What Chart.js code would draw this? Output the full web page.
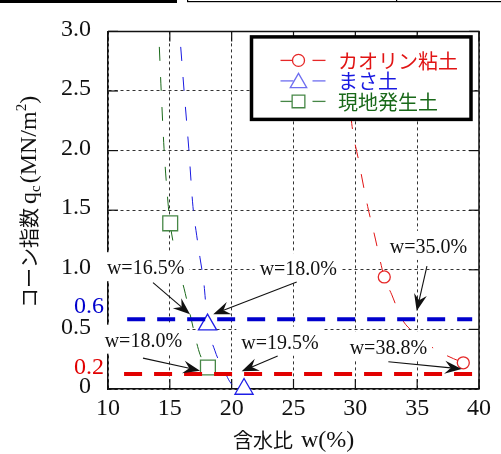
<!DOCTYPE html>
<html><head><meta charset="utf-8">
<script src="https://cdn.jsdelivr.net/npm/chart.js@4.4.0/dist/chart.umd.min.js"></script>
<style>html,body{margin:0;padding:0;background:#fff;}#wrap{width:501px;height:454px;}</style>
</head><body><div id="wrap"><canvas id="c" width="501" height="454"></canvas></div>
<script>
// ---- data ----
const xTicks = [10, 15, 20, 25, 30, 35, 40];
const yTicks = [0, 0.5, 1.0, 1.5, 2.0, 2.5, 3.0];
const seriesNames = ['カオリン粘土', 'まさ土', '現地発生土'];

// measured points
const kaolinW = [32.34, 38.73];
const kaolinQ = [0.94, 0.22];
const masaW = [18.05, 21.0];
const masaQ = [0.54, 0.0];
const genchiW = [15.03, 18.08];
const genchiQ = [1.39, 0.18];

// fitted curves
const kaolinFitW = [29.45, 29.65, 30.3, 31.0, 31.53, 32.34, 32.95, 33.75, 35.0, 36.2, 37.4, 38.73];
const kaolinFitQ = [2.55, 2.28, 1.90, 1.53, 1.30, 0.94, 0.79, 0.59, 0.45, 0.35, 0.28, 0.22];
const masaFitW = [15.88, 16.15, 16.53, 16.87, 17.17, 17.44, 17.76, 18.03, 18.65, 19.46, 19.86, 20.4];
const masaFitQ = [2.87, 2.505, 2.02, 1.53, 1.29, 1.10, 0.88, 0.57, 0.32, 0.14, 0.06, 0.0];
const genchiFitW = [14.15, 14.3, 14.53, 14.88, 15.03, 15.15, 15.75, 16.16, 16.63, 17.44, 18.08];
const genchiFitQ = [2.87, 2.505, 2.02, 1.53, 1.39, 1.30, 1.00, 0.84, 0.63, 0.29, 0.18];

// reference levels (dashed horizontal lines)
const refLabels = ['0.6', '0.2'];
const refLevels = [0.585, 0.125];
const refLabelQ = [0.69, 0.178];
const refStartW = [11.55, 11.3];
const refEndW = [39.45, 39.45];

// annotations
const annoText = ['w=16.5%', 'w=18.0%', 'w=35.0%', 'w=18.0%', 'w=19.5%', 'w=38.8%'];
const annoAtW = [13.04, 25.39, 35.92, 12.86, 23.91, 32.67];
const annoAtQ = [1.005, 0.997, 1.184, 0.397, 0.381, 0.341];
const arrowFromW = [13.64, 25.26, 35.79, 12.83, 23.72, 32.67];
const arrowFromQ = [0.892, 0.898, 1.03, 0.259, 0.276, 0.229];
const arrowToW = [16.63, 18.51, 34.96, 17.44, 20.81, 38.6];
const arrowToQ = [0.627, 0.627, 0.654, 0.154, 0.148, 0.168];

// ---- styles ----
const RED = 'rgb(225,20,20)', BLUE = 'rgb(25,25,225)', GREEN = 'rgb(25,105,25)';
const REF_BLUE = 'rgb(0,0,205)', REF_RED = 'rgb(225,0,0)';
const SERIF = '"Liberation Serif","Times New Roman",serif';
const CJK = '"Noto Sans CJK JP","Noto Sans CJK SC",sans-serif';

const zip = (a, b) => a.map((v, i) => ({x: v, y: b[i]}));

function fitDs(w, q, color) {
  return {type: 'line', data: zip(w, q), borderColor: color, borderWidth: 1, borderDash: [14, 16],
    pointRadius: 0, fill: false, cubicInterpolationMode: 'monotone', order: 3, clip: false};
}
function markDs(w, q, color, style, r) {
  return {type: 'scatter', data: zip(w, q), pointStyle: style, pointRadius: r, borderColor: color,
    backgroundColor: '#fff', pointBorderWidth: 1.3, showLine: false, order: 2, clip: false};
}
function refDs(i, color) {
  return {type: 'line', data: [{x: refStartW[i], y: refLevels[i]}, {x: refEndW[i], y: refLevels[i]}],
    borderColor: color, borderWidth: 4, borderDash: [18, 12], pointRadius: 0, fill: false, order: 1, clip: false};
}

const datasets = [
  fitDs(kaolinFitW, kaolinFitQ, RED),
  fitDs(masaFitW, masaFitQ, BLUE),
  fitDs(genchiFitW, genchiFitQ, GREEN),
  markDs(kaolinW, kaolinQ, 'rgb(230,40,40)', 'circle', 6),
  markDs(masaW, masaQ, 'rgb(30,30,230)', 'triangle', 10.5),
  markDs(genchiW, genchiQ, 'rgb(70,135,70)', 'rect', 10.5),
  refDs(0, REF_BLUE),
  refDs(1, REF_RED)
];

function line(ctx, x0, y0, x1, y1) { ctx.beginPath(); ctx.moveTo(x0, y0); ctx.lineTo(x1, y1); ctx.stroke(); }

function arrow(ctx, x0, y0, x1, y1) {
  const a = Math.atan2(y1 - y0, x1 - x0), c = Math.cos(a), s = Math.sin(a);
  const L = 17, W = 6.5, N = 11;
  ctx.lineWidth = 1.1;
  line(ctx, x0, y0, x1 - c * N, y1 - s * N);
  ctx.beginPath();
  ctx.moveTo(x1, y1);
  ctx.lineTo(x1 - L * c + W * s, y1 - L * s - W * c);
  ctx.lineTo(x1 - N * c, y1 - N * s);
  ctx.lineTo(x1 - L * c - W * s, y1 - L * s + W * c);
  ctx.closePath(); ctx.fill();
}

function drawPieces(ctx, pieces) {
  let x = 0;
  pieces.forEach(p => {
    ctx.font = p.font; ctx.textBaseline = p.base; ctx.fillText(p.t, x, p.dy);
    x += ctx.measureText(p.t).width + (p.gap || 0);
  });
}

const TL = 10;
const framePlugin = {
  id: 'frame',
  beforeDatasetsDraw(chart) {
    const {ctx, chartArea: a, scales: {x, y}} = chart;
    ctx.save();
    ctx.strokeStyle = '#111'; ctx.lineWidth = 1.5;
    ctx.beginPath(); ctx.moveTo(a.left, a.top); ctx.lineTo(a.right, a.top); ctx.lineTo(a.right, a.bottom); ctx.stroke();
    ctx.lineWidth = 1.2;
    xTicks.forEach(v => { const p = x.getPixelForValue(v); line(ctx, p, a.bottom, p, a.bottom - TL); line(ctx, p, a.top, p, a.top + TL); });
    yTicks.forEach(v => { const p = y.getPixelForValue(v); line(ctx, a.left, p, a.left + TL, p); line(ctx, a.right, p, a.right - TL, p); });
    ctx.restore();
  },
  afterDatasetsDraw(chart) {
    const {ctx, chartArea: a, scales: {x, y}} = chart;
    ctx.save();
    // annotation labels with white backgrounds
    ctx.font = '20px ' + SERIF;
    annoText.forEach((t, i) => {
      const cx = x.getPixelForValue(annoAtW[i]), cy = y.getPixelForValue(annoAtQ[i]);
      const w = ctx.measureText(t).width;
      ctx.fillStyle = '#fff';
      ctx.fillRect(cx - w / 2 - 5, cy - 17, w + 10, 29);
    });
    ctx.fillStyle = '#111'; ctx.textAlign = 'center'; ctx.textBaseline = 'middle';
    annoText.forEach((t, i) => {
      ctx.fillText(t, x.getPixelForValue(annoAtW[i]), y.getPixelForValue(annoAtQ[i]));
    });
    ctx.strokeStyle = '#111'; ctx.fillStyle = '#111';
    annoText.forEach((t, i) => {
      arrow(ctx, x.getPixelForValue(arrowFromW[i]), y.getPixelForValue(arrowFromQ[i]),
        x.getPixelForValue(arrowToW[i]), y.getPixelForValue(arrowToQ[i]));
    });
    // reference labels
    ctx.font = '24px ' + SERIF; ctx.textAlign = 'right'; ctx.textBaseline = 'middle';
    [REF_BLUE, REF_RED].forEach((c, i) => {
      ctx.fillStyle = c; ctx.fillText(refLabels[i], a.left - 4, y.getPixelForValue(refLabelQ[i]));
    });
    // legend
    const lx = a.left + 143.5, ly = a.top + 5.5, lw = 219.5, lh = 82.5;
    ctx.fillStyle = '#fff'; ctx.fillRect(lx, ly, lw, lh);
    ctx.strokeStyle = '#000'; ctx.lineWidth = 3.5; ctx.strokeRect(lx, ly, lw, lh);
    const rows = [
      {c: RED, lc: 'rgb(230,40,40)', style: 'circle', r: 6},
      {c: BLUE, lc: 'rgb(110,110,240)', style: 'triangle', r: 9.5},
      {c: GREEN, lc: 'rgb(70,135,70)', style: 'rect', r: 9}
    ];
    rows.forEach((row, i) => {
      const ry = ly + 23.5 + i * 20.5;
      const mx = lx + 47;
      ctx.strokeStyle = row.lc; ctx.lineWidth = 1.3;
      line(ctx, lx + 29, ry, mx - 5, ry);
      line(ctx, lx + 61, ry, lx + 74, ry);
      ctx.fillStyle = '#fff';
      Chart.helpers.drawPoint(ctx, {pointStyle: row.style, radius: row.r, borderWidth: 1.3}, mx, ry + (row.style === 'triangle' ? 2 : 0));
      ctx.fillStyle = row.c; ctx.font = '20px ' + CJK; ctx.textAlign = 'left'; ctx.textBaseline = 'middle';
      ctx.fillText(seriesNames[i], lx + 86.5, ry + 1);
    });
    ctx.restore();
  },
  afterDraw(chart) {
    const {ctx, chartArea: a} = chart;
    ctx.save();
    ctx.fillStyle = '#111';
    // x title
    ctx.translate(233, 440);
    drawPieces(ctx, [
      {t: '含水比', font: '20px ' + CJK, base: 'middle', dy: 0, gap: 8},
      {t: 'w(%)', font: '24px ' + SERIF, base: 'alphabetic', dy: 7}
    ]);
    ctx.setTransform(1, 0, 0, 1, 0, 0);
    // y title
    ctx.translate(29, 308); ctx.rotate(-Math.PI / 2);
    drawPieces(ctx, [
      {t: 'コーン指数', font: '20px ' + CJK, base: 'middle', dy: 0, gap: 4},
      {t: 'q', font: '24px ' + SERIF, base: 'alphabetic', dy: 7},
      {t: 'c', font: '15px ' + SERIF, base: 'alphabetic', dy: 11, gap: 2},
      {t: '(MN/m', font: '24px ' + SERIF, base: 'alphabetic', dy: 7},
      {t: '2', font: '15px ' + SERIF, base: 'alphabetic', dy: -3},
      {t: ')', font: '24px ' + SERIF, base: 'alphabetic', dy: 7}
    ]);
    ctx.setTransform(1, 0, 0, 1, 0, 0);
    // cropped border remnants at the top edge
    ctx.fillStyle = '#000';
    ctx.fillRect(0, 0, 177, 3);
    ctx.fillRect(187, 1, 314, 1.2);
    ctx.fillRect(187, 0, 1.2, 2);
    ctx.fillRect(396, 0, 1.2, 2);
    ctx.restore();
  }
};

new Chart(document.getElementById('c'), {
  type: 'scatter',
  data: {datasets},
  options: {
    responsive: false, animation: false,
    layout: {padding: {top: 19, right: 22, left: 0, bottom: 0}},
    plugins: {legend: {display: false}, tooltip: {enabled: false}},
    scales: {
      x: {
        type: 'linear', min: 10, max: 40,
        afterBuildTicks: s => { s.ticks = xTicks.map(v => ({value: v})); },
        afterFit: s => { s.height = 65; },
        grid: {color: '#333', lineWidth: 1, drawTicks: false},
        border: {display: true, color: '#111', width: 1.5, dash: [3, 3]},
        ticks: {padding: 5, color: '#111', font: {family: SERIF, size: 24}, maxRotation: 0, autoSkip: false}
      },
      y: {
        type: 'linear', min: 0, max: 3,
        afterBuildTicks: s => { s.ticks = yTicks.map(v => ({value: v})); },
        afterFit: s => { s.width = 108; },
        grid: {color: '#333', lineWidth: 1, drawTicks: false},
        border: {display: true, color: '#111', width: 1.5, dash: [3, 3]},
        ticks: {padding: 17, labelOffset: -2, color: '#111', font: {family: SERIF, size: 24}, autoSkip: false,
          callback: v => v === 0 ? '0' : v.toFixed(1)}
      }
    }
  },
  plugins: [framePlugin]
});
</script></body></html>
